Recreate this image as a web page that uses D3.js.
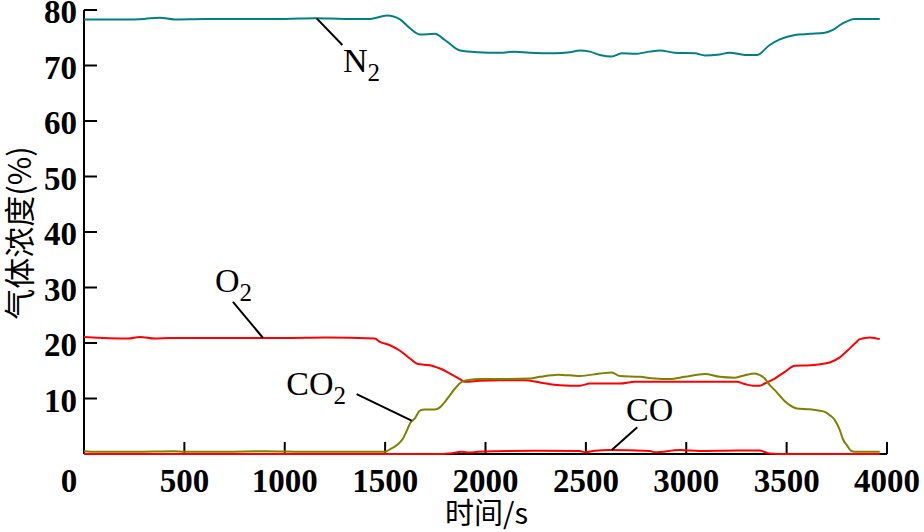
<!DOCTYPE html>
<html>
<head>
<meta charset="utf-8">
<script src="https://cdn.jsdelivr.net/npm/d3@7"></script>
<style>
  body { margin: 0; background: #fff; }
</style>
</head>
<body>
<div id="chart"></div>
<script>
// Gas concentration (%) against time (s).
var xTicks = [0, 500, 1000, 1500, 2000, 2500, 3000, 3500, 4000];
var yTicks = [10, 20, 30, 40, 50, 60, 70, 80];

var timeN2 = [0, 100, 200, 300, 378, 450, 600, 800, 1000, 1150, 1300, 1424, 1509, 1574, 1624, 1673, 1748, 1798,
  1873, 1962, 2072, 2146, 2221, 2346, 2420, 2470, 2520, 2570, 2629, 2679, 2744, 2819, 2869, 2943, 3043, 3093,
  3167, 3217, 3292, 3352, 3416, 3466, 3541, 3616, 3690, 3730, 3775, 3840, 3964];
var n2 = [78.3, 78.3, 78.3, 78.4, 78.6, 78.3, 78.4, 78.4, 78.4, 78.5, 78.4, 78.4, 79.0, 78.3, 76.7, 75.6, 75.7, 74.6,
  72.7, 72.4, 72.3, 72.5, 72.3, 72.2, 72.4, 72.7, 72.5, 71.9, 71.6, 72.2, 72.1, 72.5, 72.7, 72.3, 72.2, 71.8,
  72.0, 72.3, 71.9, 71.9, 73.7, 74.7, 75.5, 75.7, 75.9, 76.4, 77.5, 78.4, 78.4];

var timeO2 = [0, 219, 279, 354, 428, 700, 1000, 1200, 1449, 1474, 1524, 1574, 1624, 1663, 1723, 1773, 1823, 1873,
  1897, 1972, 2072, 2196, 2271, 2371, 2470, 2520, 2669, 2744, 2869, 3068, 3252, 3292, 3332, 3367, 3391, 3441,
  3491, 3541, 3616, 3715, 3765, 3805, 3840, 3865, 3914, 3964];
var o2 = [21.1, 20.8, 21.1, 20.8, 20.9, 20.9, 20.9, 21.0, 20.8, 20.2, 19.6, 18.6, 17.2, 16.2, 16.0, 15.4, 14.5, 13.5,
  13.0, 13.2, 13.3, 13.3, 12.9, 12.4, 12.3, 12.7, 12.7, 13.0, 13.0, 13.0, 13.0, 12.6, 12.3, 12.3, 12.7, 13.6,
  14.8, 15.9, 16.0, 16.5, 17.4, 18.7, 19.9, 20.7, 21.0, 20.7];

var timeCO2 = [0, 60, 250, 450, 500, 700, 900, 1100, 1300, 1499, 1524, 1559, 1589, 1609, 1624, 1648, 1673, 1698,
  1748, 1773, 1798, 1823, 1848, 1882, 1912, 1972, 2072, 2221, 2271, 2361, 2470, 2570, 2629, 2669, 2769, 2844,
  2918, 2993, 3093, 3167, 3242, 3292, 3342, 3367, 3391, 3416, 3441, 3466, 3491, 3516, 3551, 3616, 3665, 3690,
  3715, 3740, 3765, 3780, 3800, 3820, 3840, 3964];
var co2 = [0.5, 0.4, 0.4, 0.5, 0.4, 0.4, 0.5, 0.4, 0.4, 0.4, 0.85, 1.6, 2.8, 4.3, 5.5, 6.4, 7.8, 8.0,
  8.0, 8.4, 9.4, 10.6, 11.8, 13.0, 13.3, 13.5, 13.5, 13.6, 13.9, 14.3, 14.05, 14.5, 14.7, 14.05, 13.9, 13.6,
  13.5, 13.9, 14.4, 13.9, 13.75, 14.2, 14.5, 14.2, 13.6, 12.4, 11.5, 10.5, 9.5, 8.8, 8.2, 8.05, 7.8, 7.6,
  7.0, 6.1, 4.3, 2.7, 1.6, 0.6, 0.4, 0.4];

var timeCO = [0, 1000, 1788, 1823, 1882, 1922, 1962, 2261, 2470, 2495, 2545, 2619, 2819, 2844, 2968, 3068, 3252,
  3367, 3391, 3416, 3491, 3964];
var co = [0, 0, 0, 0.1, 0.4, 0.25, 0.4, 0.6, 0.55, 0.3, 0.6, 0.7, 0.55, 0.3, 0.7, 0.55, 0.65,
  0.65, 0.35, 0.1, 0, 0];

// gas labels with leader lines, anchored in data units (time, %)
var labels = [
  {main: "N", sub: "2", at: [1290, 68.8], from: [1159, 78.5], to: [1287, 73.7]},
  {main: "O", sub: "2", at: [652, 29.2], from: [742, 27.4], to: [892, 20.9]},
  {main: "CO", sub: "2", at: [1008, 10.6], from: [1358, 10.8], to: [1632, 6.0]},
  {main: "CO", sub: "", at: [2700, 5.9], from: [2756, 4.8], to: [2629, 0.7]}
];

var series = [
  {times: timeN2, values: n2, color: "#008080"},
  {times: timeO2, values: o2, color: "#ff0000"},
  {times: timeCO2, values: co2, color: "#808000"},
  {times: timeCO, values: co, color: "#ff0000"}
];

var margin = {top: 10, right: 37, bottom: 78, left: 84},
    width = 924 - margin.left - margin.right,
    height = 532 - margin.top - margin.bottom;

var svg = d3.select("#chart")
  .append("svg")
    .attr("width", 924)
    .attr("height", 532)
  .append("g")
    .attr("transform", "translate(" + margin.left + "," + margin.top + ")");

var x = d3.scaleLinear().domain([0, 4000]).range([0, width]);
var y = d3.scaleLinear().domain([0, 80]).range([height, 0]);

var tickFont = "'Liberation Serif', 'Times New Roman', serif";

// x axis, ticks point up into the plot
var gx = svg.append("g")
  .attr("class", "x-axis")
  .attr("transform", "translate(0," + height + ")")
  .call(d3.axisBottom(x).tickValues(xTicks).tickFormat(d3.format("d"))
    .tickSizeInner(-12).tickSizeOuter(0).tickPadding(15).offset(0));

// y axis, ticks point right into the plot
var gy = svg.append("g")
  .attr("class", "y-axis")
  .call(d3.axisLeft(y).tickValues(yTicks).tickFormat(d3.format("d"))
    .tickSizeInner(-13).tickSizeOuter(0).tickPadding(7).offset(0));

[gx, gy].forEach(function(g) {
  g.attr("font-family", tickFont).attr("font-size", 33).attr("font-weight", "bold");
  g.select(".domain").attr("stroke", "#000").attr("stroke-width", 2);
  g.selectAll(".tick line").attr("stroke", "#000").attr("stroke-width", 2);
  g.selectAll(".tick text").attr("fill", "#000");
});
gy.selectAll(".tick text").attr("dy", "0.4em");
// the 0 label sits left of the corner
gx.selectAll(".tick text").filter(function(d) { return d === 0; }).attr("x", -15);

// curves
var line = d3.line()
  .x(function(d) { return x(d[0]); })
  .y(function(d) { return y(d[1]); })
  .curve(d3.curveMonotoneX);

series.forEach(function(s) {
  svg.append("path")
    .datum(d3.zip(s.times, s.values))
    .attr("fill", "none")
    .attr("stroke", s.color)
    .attr("stroke-width", 2)
    .attr("d", line);
});

// gas labels
labels.forEach(function(l) {
  svg.append("line")
    .attr("x1", x(l.from[0])).attr("y1", y(l.from[1]))
    .attr("x2", x(l.to[0])).attr("y2", y(l.to[1]))
    .attr("stroke", "#000")
    .attr("stroke-width", 2);
  var t = svg.append("text")
    .attr("x", x(l.at[0]))
    .attr("y", y(l.at[1]))
    .attr("font-family", tickFont)
    .attr("font-size", 34)
    .text(l.main);
  if (l.sub) {
    t.append("tspan")
      .attr("font-size", 25)
      .attr("dy", 9)
      .text(l.sub);
  }
});

// axis titles
svg.append("text")
  .attr("x", width / 2 + 1)
  .attr("y", height + 70)
  .attr("text-anchor", "middle")
  .attr("font-family", "'Noto Sans CJK SC', sans-serif")
  .attr("font-size", 29)
  .text("时间/s");

svg.append("text")
  .attr("transform", "translate(" + (31 - margin.left) + "," + (233 - margin.top) + ") rotate(-90)")
  .attr("text-anchor", "middle")
  .attr("font-family", "'Noto Sans CJK SC', sans-serif")
  .attr("font-size", 31)
  .text("气体浓度(%)");
</script>
</body>
</html>
